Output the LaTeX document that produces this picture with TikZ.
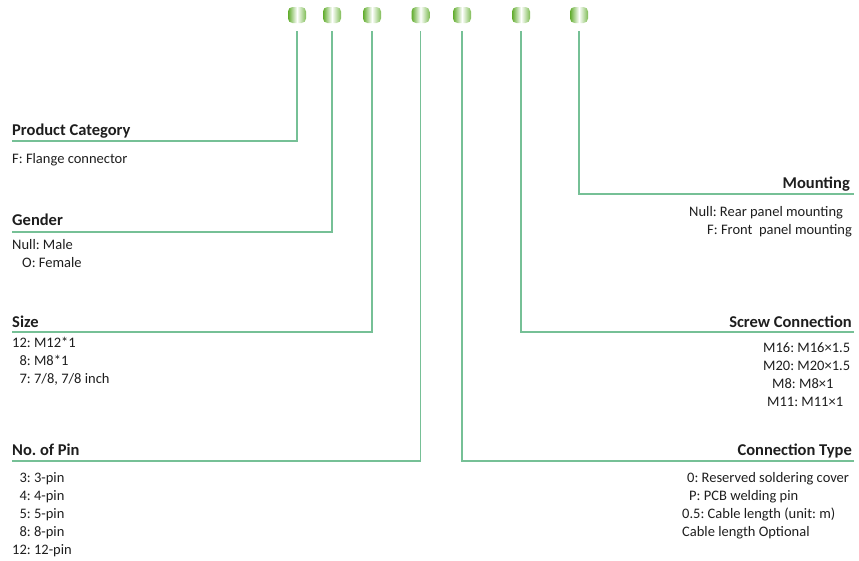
\documentclass[tikz,border=0pt]{standalone}
\usepackage{fontspec}
\setmainfont{Carlito}
\frenchspacing
\definecolor{linegreen}{RGB}{118,192,150}
\definecolor{pillgreen}{RGB}{96,172,44}
\definecolor{txt}{RGB}{30,30,30}
\tikzset{
  pill/.style={draw=none, minimum width=18pt, minimum height=16pt, inner sep=0pt,
    rounded corners=4.5pt, left color=pillgreen, right color=pillgreen!80, middle color=white},
  conn/.style={draw=linegreen, line width=1.4pt, shorten <=8pt},
  title/.style={font=\fontsize{16.5}{20}\selectfont\bfseries, text=txt, inner sep=0pt},
  body/.style={font=\fontsize{14.5}{18}\selectfont, text=txt, inner sep=0pt, anchor=base west},
}
\newcommand{\blk}[1]{\begin{tabular}[t]{@{}l@{}}#1\end{tabular}}
\begin{document}
\begin{tikzpicture}[x=1pt,y=-1pt]
\useasboundingbox (0,0) rectangle (859,560);
% pills
\node[pill] (p1) at (297,15) {};
\node[pill] (p2) at (332,15) {};
\node[pill] (p3) at (372,15) {};
\node[pill] (p4) at (420.5,15) {};
\node[pill] (p5) at (462,15) {};
\node[pill] (p6) at (521,15) {};
\node[pill] (p7) at (579,15) {};
% corner and end coordinates
\coordinate (c1) at (p1.center |- 0,141);
\coordinate (e1) at (12,141);
\coordinate (c2) at (p2.center |- 0,232);
\coordinate (e2) at (12,232);
\coordinate (c3) at (p3.center |- 0,332);
\coordinate (e3) at (12,332);
\coordinate (c4) at (p4.center |- 0,461);
\coordinate (e4) at (12,461);
\coordinate (c5) at (p5.center |- 0,461);
\coordinate (e5) at (854,461);
\coordinate (c6) at (p6.center |- 0,332);
\coordinate (e6) at (854,332);
\coordinate (c7) at (p7.center |- 0,194);
\coordinate (e7) at (854,194);
% connectors
\draw[conn] (p1.south) -- (c1) -- (e1);
\draw[conn] (p2.south) -- (c2) -- (e2);
\draw[conn] (p3.south) -- (c3) -- (e3);
\draw[conn] (p4.south) -- (c4) -- (e4);
\draw[conn] (p5.south) -- (c5) -- (e5);
\draw[conn] (p6.south) -- (c6) -- (e6);
\draw[conn] (p7.south) -- (c7) -- (e7);
% left titles and bodies
\node[title, anchor=base west] (t1) at (12,135) {Product Category};
\node[body] (b1) at (12,163) {\blk{F: Flange connector}};
\node[title, anchor=base west] (t2) at (12,225) {Gender};
\node[body] (b2) at (12,249) {\blk{Null: Male\\\hspace*{10pt}O: Female}};
\node[title, anchor=base west] (t3) at (12,327) {Size};
\node[body] (b3) at (12,347) {\blk{12: M12*1\\\phantom{1}8: M8*1\\\phantom{1}7: 7/8, 7/8 inch}};
\node[title, anchor=base west] (t4) at (12,455) {No. of Pin};
\node[body] (b4) at (12,482) {\blk{\phantom{1}3: 3-pin\\\phantom{1}4: 4-pin\\\phantom{1}5: 5-pin\\\phantom{1}8: 8-pin\\12: 12-pin}};
% right titles and bodies
\node[title, anchor=base east] (t7) at (850,188) {Mounting};
\node[body] (b7) at (689,216) {\blk{Null: Rear panel mounting\\\hspace*{18pt}F: Front\ \ panel mounting}};
\node[title, anchor=base east] (t6) at (852,327) {Screw Connection};
\node[body] (b6) at (763,352) {\blk{M16: M16×1.5\\M20: M20×1.5\\\hspace*{9pt}M8: M8×1\\\hspace*{4pt}M11: M11×1}};
\node[title, anchor=base east] (t5) at (852,455) {Connection Type};
\node[body] (b5) at (682,482) {\blk{\hspace*{5pt}0: Reserved soldering cover\\\hspace*{7pt}P: PCB welding pin\\0.5: Cable length (unit: m)\\Cable length Optional}};
\end{tikzpicture}
\end{document}
